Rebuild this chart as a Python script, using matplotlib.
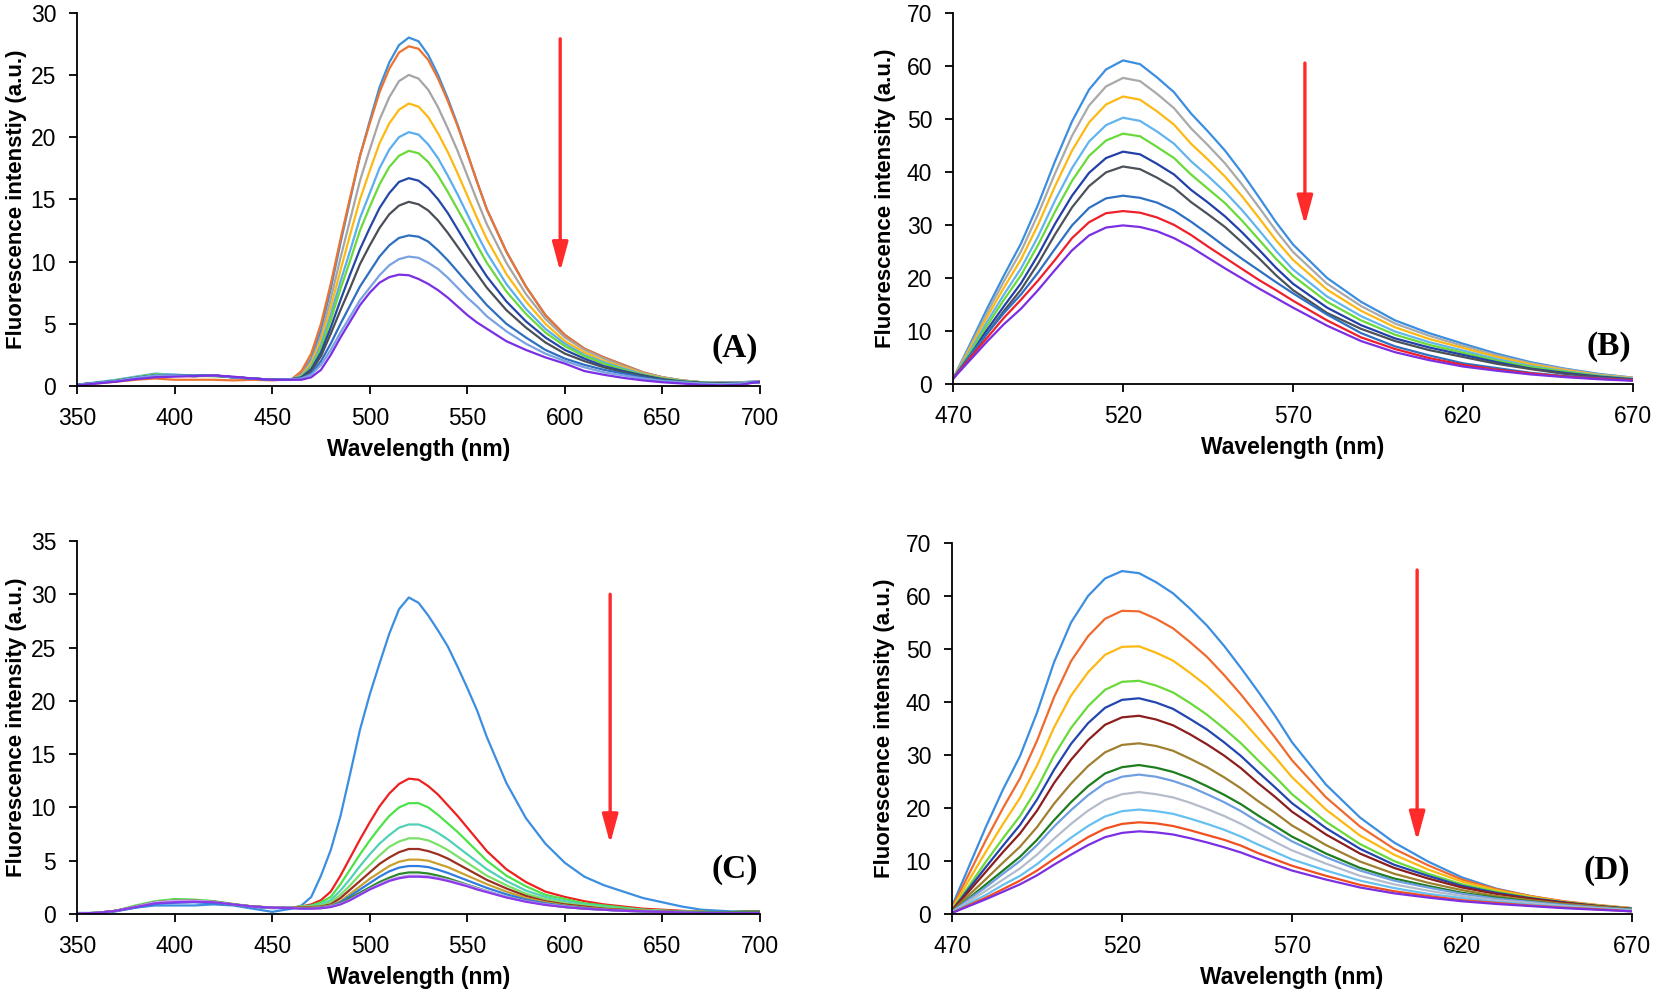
import matplotlib
matplotlib.use("Agg")
import matplotlib.pyplot as plt

plt.rcParams["font.family"] = ["Liberation Sans", "DejaVu Sans"]

# wavelength grids (nm)
wl_ac = [350, 360, 370, 380, 390, 400, 410, 420, 430, 440, 450, 460,
         465, 470, 475, 480, 485, 490, 495, 500, 505, 510, 515, 520, 525, 530,
         535, 540, 545, 550, 555, 560,
         570, 580, 590, 600, 610, 620, 630, 640, 650, 660, 670, 680, 690, 700]
wl_bd = [470, 475, 480, 485, 490, 495, 500, 505, 510, 515, 520, 525, 530, 535,
         540, 545, 550, 555, 560, 565, 570,
         580, 590, 600, 610, 620, 630, 640, 650, 660, 670]

# ---- panel A ----
A_1 = [0.1, 0.25, 0.45, 0.7, 0.95, 0.9, 0.85, 0.85, 0.7, 0.6, 0.5, 0.55,
       1.0, 2.2, 4.5, 7.8, 11.5, 15.0, 18.5, 21.3, 24.0, 26.0, 27.4, 28.0, 27.7, 26.6, 25.0, 23.1, 21.0, 18.7, 16.4, 14.2,
       10.8, 8.0, 5.7, 4.1, 3.0, 2.3, 1.7, 1.1, 0.7, 0.45, 0.3, 0.3, 0.3, 0.4]
A_2 = [0.1, 0.2, 0.35, 0.5, 0.6, 0.5, 0.5, 0.5, 0.45, 0.5, 0.45, 0.55,
       1.2, 2.6, 5.0, 8.2, 11.8, 15.2, 18.5, 21.1, 23.6, 25.5, 26.8, 27.3, 27.1, 26.2, 24.7, 22.9, 20.9, 18.7, 16.4, 14.2,
       10.8, 8.0, 5.7, 4.1, 3.0, 2.3, 1.7, 1.1, 0.7, 0.45, 0.3, 0.25, 0.25, 0.35]
A_3 = [0.1, 0.25, 0.4, 0.65, 0.85, 0.85, 0.8, 0.85, 0.7, 0.6, 0.5, 0.55,
       0.9, 2.0, 4.0, 7.0, 10.3, 13.4, 16.5, 19.0, 21.4, 23.2, 24.5, 25.0, 24.7, 23.8, 22.4, 20.7, 18.9, 16.9, 14.9, 13.0,
       9.9, 7.4, 5.4, 3.9, 2.9, 2.2, 1.6, 1.05, 0.7, 0.45, 0.3, 0.25, 0.25, 0.35]
A_4 = [0.1, 0.25, 0.4, 0.6, 0.8, 0.8, 0.8, 0.8, 0.7, 0.6, 0.5, 0.55,
       0.85, 1.8, 3.7, 6.3, 9.3, 12.2, 15.0, 17.3, 19.5, 21.1, 22.2, 22.7, 22.45, 21.6, 20.3, 18.8, 17.1, 15.3, 13.5, 11.8,
       9.0, 6.8, 5.0, 3.6, 2.7, 2.0, 1.5, 1.0, 0.65, 0.4, 0.3, 0.25, 0.25, 0.35]
A_5 = [0.1, 0.3, 0.5, 0.75, 1.0, 0.9, 0.85, 0.8, 0.7, 0.6, 0.5, 0.55,
       0.8, 1.6, 3.3, 5.7, 8.4, 10.9, 13.5, 15.5, 17.5, 19.0, 20.0, 20.4, 20.2, 19.4, 18.3, 16.9, 15.4, 13.8, 12.2, 10.7,
       8.2, 6.2, 4.6, 3.4, 2.5, 1.9, 1.4, 0.95, 0.6, 0.4, 0.3, 0.25, 0.25, 0.35]
A_6 = [0.1, 0.25, 0.45, 0.7, 0.95, 0.85, 0.8, 0.8, 0.7, 0.6, 0.5, 0.55,
       0.75, 1.5, 3.0, 5.3, 7.8, 10.1, 12.5, 14.4, 16.2, 17.6, 18.5, 18.9, 18.7, 18.0, 16.9, 15.6, 14.2, 12.8, 11.3, 9.9,
       7.6, 5.8, 4.3, 3.2, 2.4, 1.8, 1.3, 0.9, 0.6, 0.4, 0.3, 0.2, 0.2, 0.3]
A_7 = [0.1, 0.25, 0.4, 0.65, 0.85, 0.85, 0.8, 0.85, 0.7, 0.6, 0.5, 0.55,
       0.7, 1.35, 2.7, 4.7, 6.9, 9.0, 11.0, 12.7, 14.3, 15.5, 16.4, 16.7, 16.5, 15.9, 15.0, 13.9, 12.6, 11.3, 10.0, 8.8,
       6.8, 5.2, 3.9, 2.9, 2.2, 1.6, 1.2, 0.85, 0.55, 0.35, 0.25, 0.2, 0.2, 0.3]
A_8 = [0.1, 0.25, 0.4, 0.65, 0.85, 0.85, 0.8, 0.85, 0.7, 0.6, 0.5, 0.55,
       0.65, 1.2, 2.4, 4.2, 6.1, 7.9, 9.8, 11.3, 12.7, 13.8, 14.5, 14.8, 14.6, 14.1, 13.3, 12.3, 11.2, 10.1, 9.0, 7.9,
       6.1, 4.7, 3.5, 2.6, 2.0, 1.5, 1.1, 0.8, 0.5, 0.35, 0.25, 0.2, 0.2, 0.3]
A_9 = [0.1, 0.25, 0.4, 0.65, 0.85, 0.85, 0.8, 0.85, 0.7, 0.6, 0.5, 0.55,
       0.6, 1.0, 2.0, 3.4, 5.0, 6.5, 8.0, 9.2, 10.4, 11.3, 11.9, 12.1, 12.0, 11.6, 10.9, 10.1, 9.2, 8.3, 7.4, 6.5,
       5.0, 3.9, 2.9, 2.2, 1.7, 1.3, 1.0, 0.7, 0.45, 0.3, 0.2, 0.15, 0.2, 0.3]
A_10 = [0.1, 0.25, 0.4, 0.65, 0.85, 0.85, 0.8, 0.85, 0.7, 0.6, 0.5, 0.55,
        0.6, 0.9, 1.7, 2.9, 4.3, 5.6, 6.9, 7.9, 8.9, 9.7, 10.2, 10.4, 10.3, 9.9, 9.4, 8.7, 7.9, 7.1, 6.4, 5.6,
        4.4, 3.4, 2.6, 2.0, 1.5, 1.1, 0.85, 0.6, 0.4, 0.3, 0.2, 0.15, 0.2, 0.3]
A_11 = [0.05, 0.2, 0.35, 0.55, 0.7, 0.75, 0.8, 0.85, 0.75, 0.6, 0.5, 0.5,
        0.5, 0.7, 1.3, 2.5, 3.9, 5.2, 6.5, 7.5, 8.3, 8.75, 8.95, 8.9, 8.6, 8.2, 7.7, 7.1, 6.4, 5.7, 5.1, 4.6,
        3.6, 2.9, 2.3, 1.8, 1.2, 0.9, 0.65, 0.45, 0.3, 0.2, 0.1, 0.05, 0.1, 0.35]
A_colors = ["#3c8fdc", "#ee7330", "#a5a5a5", "#fdb913", "#5aaef0", "#6ad93a",
            "#2447a8", "#4a4f57", "#2e6fc0", "#7aa2e3", "#7b2fe3"]

# ---- panel B ----
B_1 = [1.0, 7.5, 14.2, 20.5, 26.5, 33.8, 42.0, 49.5, 55.5, 59.3, 61.0, 60.3, 57.8, 55.0, 51.0, 47.6, 44.0, 39.8, 35.2, 30.5, 26.3,
       20.0, 15.5, 12.0, 9.6, 7.6, 5.7, 4.1, 2.9, 1.9, 1.2]
B_2 = [1.0, 7.1, 13.4, 19.4, 25.0, 32.0, 39.7, 46.8, 52.5, 56.1, 57.7, 57.1, 54.7, 52.0, 48.2, 45.0, 41.6, 37.6, 33.3, 28.9, 24.9,
       18.9, 14.7, 11.4, 9.1, 7.2, 5.4, 3.9, 2.8, 1.8, 1.2]
B_3 = [1.0, 6.7, 12.6, 18.2, 23.5, 30.0, 37.3, 44.0, 49.3, 52.7, 54.2, 53.6, 51.4, 48.9, 45.3, 42.3, 39.1, 35.4, 31.3, 27.1, 23.4,
       17.8, 13.8, 10.7, 8.5, 6.8, 5.1, 3.7, 2.6, 1.7, 1.1]
B_4 = [1.0, 6.2, 11.7, 16.9, 21.8, 27.8, 34.6, 40.7, 45.7, 48.8, 50.2, 49.6, 47.6, 45.3, 42.0, 39.2, 36.2, 32.8, 29.0, 25.1, 21.6,
       16.5, 12.8, 9.9, 7.9, 6.3, 4.7, 3.4, 2.4, 1.6, 1.0]
B_5 = [1.0, 5.8, 11.0, 15.9, 20.5, 26.2, 32.5, 38.3, 43.0, 45.9, 47.2, 46.7, 44.7, 42.6, 39.5, 36.8, 34.1, 30.8, 27.2, 23.6, 20.4,
       15.5, 12.0, 9.3, 7.4, 5.9, 4.4, 3.2, 2.3, 1.5, 0.9]
B_6 = [1.0, 5.4, 10.2, 14.7, 19.0, 24.3, 30.2, 35.5, 39.8, 42.6, 43.8, 43.3, 41.5, 39.5, 36.6, 34.2, 31.6, 28.6, 25.3, 21.9, 18.9,
       14.4, 11.1, 8.6, 6.9, 5.5, 4.1, 2.9, 2.1, 1.4, 0.9]
B_7 = [1.0, 5.0, 9.5, 13.8, 17.8, 22.7, 28.2, 33.3, 37.3, 39.9, 41.0, 40.5, 38.9, 37.0, 34.3, 32.0, 29.6, 26.7, 23.7, 20.5, 17.7,
       13.4, 10.4, 8.1, 6.4, 5.1, 3.8, 2.8, 1.9, 1.3, 0.8]
B_8 = [1.0, 5.4, 9.5, 13.4, 16.9, 21.0, 25.5, 29.9, 33.2, 35.0, 35.5, 35.1, 34.2, 32.7, 30.6, 28.3, 25.9, 23.6, 21.4, 19.2, 17.1,
       13.1, 9.6, 7.1, 5.4, 3.9, 3.0, 2.1, 1.5, 1.1, 0.7]
B_9 = [1.0, 4.9, 8.7, 12.5, 15.9, 19.5, 23.4, 27.5, 30.5, 32.2, 32.6, 32.3, 31.4, 30.0, 28.1, 25.9, 23.8, 21.7, 19.6, 17.7, 15.7,
       12.0, 8.8, 6.6, 4.9, 3.6, 2.7, 2.0, 1.4, 1.0, 0.7]
B_10 = [1.0, 4.5, 8.0, 11.3, 14.2, 17.7, 21.5, 25.2, 28.0, 29.5, 29.9, 29.6, 28.8, 27.5, 25.8, 23.8, 21.8, 19.9, 18.0, 16.2, 14.4,
        11.0, 8.1, 6.0, 4.5, 3.3, 2.5, 1.8, 1.3, 0.9, 0.6]
B_colors = ["#3b8ee0", "#a9a9a9", "#fdb913", "#62b4ee", "#6ad93a",
            "#2340a8", "#4b5259", "#2e70c2", "#f0202a", "#7b2fe3"]

# ---- panel C ----
C_1 = [0.1, 0.1, 0.3, 0.6, 0.8, 0.8, 0.8, 0.9, 0.8, 0.5, 0.2, 0.5,
       0.8, 1.6, 3.6, 6.0, 9.2, 13.2, 17.3, 20.6, 23.5, 26.3, 28.6, 29.7, 29.2, 28.0, 26.6, 25.1, 23.2, 21.2, 19.1, 16.6,
       12.3, 9.0, 6.6, 4.8, 3.5, 2.7, 2.1, 1.5, 1.1, 0.7, 0.4, 0.3, 0.2, 0.2]
C_2 = [0.05, 0.1, 0.3, 0.7, 1.1, 1.2, 1.2, 1.1, 0.9, 0.7, 0.6, 0.6,
       0.7, 0.9, 1.3, 2.1, 3.6, 5.3, 7.0, 8.6, 10.1, 11.3, 12.2, 12.7, 12.6, 12.0, 11.2, 10.2, 9.2, 8.1, 7.0, 5.9,
       4.2, 3.0, 2.1, 1.6, 1.2, 0.9, 0.7, 0.5, 0.4, 0.3, 0.2, 0.1, 0.1, 0.1]
C_3 = [0.05, 0.1, 0.3, 0.8, 1.2, 1.4, 1.35, 1.2, 0.95, 0.7, 0.6, 0.6,
       0.7, 0.8, 1.1, 1.6, 2.8, 4.2, 5.6, 6.9, 8.1, 9.2, 10.0, 10.4, 10.4, 10.0, 9.3, 8.5, 7.7, 6.8, 5.9, 5.0,
       3.6, 2.6, 1.8, 1.4, 1.0, 0.8, 0.6, 0.4, 0.3, 0.25, 0.2, 0.15, 0.2, 0.25]
C_4 = [0.05, 0.1, 0.3, 0.7, 1.1, 1.25, 1.25, 1.15, 0.9, 0.7, 0.6, 0.6,
       0.7, 0.75, 0.9, 1.3, 2.2, 3.3, 4.5, 5.6, 6.6, 7.4, 8.1, 8.4, 8.4, 8.1, 7.6, 7.0, 6.3, 5.6, 4.9, 4.2,
       3.1, 2.2, 1.6, 1.2, 0.9, 0.7, 0.5, 0.4, 0.3, 0.25, 0.2, 0.15, 0.2, 0.25]
C_5 = [0.05, 0.1, 0.3, 0.75, 1.15, 1.3, 1.3, 1.2, 0.9, 0.7, 0.6, 0.6,
       0.7, 0.7, 0.8, 1.1, 1.8, 2.7, 3.7, 4.6, 5.5, 6.3, 6.8, 7.1, 7.1, 6.9, 6.5, 6.0, 5.4, 4.8, 4.2, 3.6,
       2.7, 1.9, 1.4, 1.0, 0.8, 0.6, 0.45, 0.35, 0.3, 0.25, 0.2, 0.15, 0.2, 0.25]
C_6 = [0.05, 0.1, 0.3, 0.7, 1.1, 1.25, 1.25, 1.15, 0.9, 0.7, 0.6, 0.6,
       0.65, 0.65, 0.7, 0.9, 1.5, 2.3, 3.1, 3.9, 4.7, 5.3, 5.8, 6.1, 6.1, 5.9, 5.6, 5.2, 4.7, 4.2, 3.7, 3.2,
       2.4, 1.7, 1.2, 0.9, 0.7, 0.5, 0.4, 0.3, 0.25, 0.2, 0.2, 0.15, 0.2, 0.25]
C_7 = [0.05, 0.1, 0.3, 0.7, 1.1, 1.25, 1.25, 1.15, 0.9, 0.7, 0.6, 0.6,
       0.6, 0.6, 0.65, 0.8, 1.2, 1.9, 2.6, 3.3, 3.9, 4.5, 4.9, 5.1, 5.1, 5.0, 4.7, 4.4, 4.0, 3.6, 3.2, 2.8,
       2.1, 1.5, 1.1, 0.8, 0.6, 0.45, 0.35, 0.3, 0.25, 0.2, 0.2, 0.15, 0.2, 0.25]
C_8 = [0.05, 0.1, 0.25, 0.6, 0.95, 1.05, 1.1, 1.0, 0.85, 0.65, 0.55, 0.55,
       0.55, 0.55, 0.6, 0.75, 1.1, 1.7, 2.3, 2.9, 3.5, 4.0, 4.35, 4.5, 4.5, 4.4, 4.15, 3.85, 3.5, 3.15, 2.8, 2.45,
       1.85, 1.35, 1.0, 0.75, 0.55, 0.4, 0.3, 0.25, 0.2, 0.2, 0.15, 0.15, 0.2, 0.2]
C_9 = [0.05, 0.1, 0.3, 0.7, 1.1, 1.25, 1.25, 1.15, 0.9, 0.7, 0.6, 0.6,
       0.55, 0.55, 0.55, 0.7, 1.0, 1.5, 2.0, 2.5, 3.0, 3.4, 3.75, 3.9, 3.9, 3.8, 3.6, 3.35, 3.05, 2.75, 2.45, 2.15,
       1.6, 1.2, 0.9, 0.65, 0.5, 0.4, 0.3, 0.25, 0.2, 0.2, 0.15, 0.15, 0.2, 0.2]
C_10 = [0.05, 0.1, 0.3, 0.7, 1.1, 1.25, 1.25, 1.15, 0.9, 0.7, 0.6, 0.6,
        0.5, 0.5, 0.55, 0.7, 0.95, 1.35, 1.85, 2.35, 2.8, 3.2, 3.45, 3.6, 3.6, 3.55, 3.4, 3.2, 2.95, 2.7, 2.4, 2.15,
        1.6, 1.2, 0.9, 0.7, 0.5, 0.4, 0.3, 0.25, 0.2, 0.15, 0.1, 0.1, 0.1, 0.1]
C_11 = [0.05, 0.1, 0.3, 0.65, 1.0, 1.1, 1.15, 1.1, 0.9, 0.7, 0.6, 0.55,
        0.5, 0.5, 0.55, 0.65, 0.9, 1.3, 1.8, 2.3, 2.7, 3.1, 3.35, 3.5, 3.5, 3.45, 3.3, 3.1, 2.85, 2.6, 2.3, 2.05,
        1.55, 1.15, 0.85, 0.65, 0.5, 0.4, 0.3, 0.25, 0.2, 0.15, 0.1, 0.1, 0.1, 0.1]
C_colors = ["#3b8ee0", "#ee2020", "#4ee24a", "#52d0b8", "#7ae06a", "#9a3020",
            "#c9a030", "#2f7de0", "#2a8a2a", "#c8a8f0", "#8a3ae8"]

# ---- panel D ----
D_1 = [1.5, 9.0, 16.5, 23.5, 29.8, 38.0, 47.5, 55.0, 60.0, 63.3, 64.7, 64.3, 62.6, 60.5, 57.6, 54.4, 50.6, 46.4, 42.0, 37.4, 32.4,
       24.4, 18.2, 13.5, 9.9, 6.9, 4.8, 3.4, 2.3, 1.6, 1.1]
D_2 = [1.2, 7.6, 14.0, 20.0, 25.6, 32.7, 40.9, 47.7, 52.4, 55.7, 57.2, 57.1, 55.7, 53.9, 51.3, 48.5, 45.1, 41.4, 37.4, 33.3, 29.0,
       22.0, 16.5, 12.3, 9.2, 6.5, 4.7, 3.4, 2.4, 1.7, 1.1]
D_3 = [1.0, 6.4, 11.8, 17.0, 21.9, 28.0, 35.2, 41.2, 45.6, 48.9, 50.4, 50.5, 49.3, 47.8, 45.5, 43.0, 40.0, 36.8, 33.2, 29.6, 25.8,
       19.7, 14.8, 11.2, 8.4, 6.1, 4.5, 3.3, 2.3, 1.6, 1.1]
D_4 = [0.8, 5.3, 9.9, 14.3, 18.5, 23.7, 29.9, 35.1, 39.2, 42.3, 43.8, 44.0, 43.1, 41.8, 39.8, 37.6, 35.0, 32.2, 29.0, 25.9, 22.6,
       17.4, 13.2, 10.0, 7.6, 5.6, 4.2, 3.1, 2.2, 1.6, 1.0]
D_5 = [0.7, 4.8, 8.9, 12.9, 16.8, 21.6, 27.2, 32.1, 36.0, 38.9, 40.4, 40.7, 39.9, 38.7, 36.8, 34.8, 32.4, 29.8, 26.8, 23.9, 20.9,
       16.2, 12.3, 9.3, 7.2, 5.3, 4.0, 3.0, 2.2, 1.5, 1.0]
D_6 = [0.7, 4.3, 8.0, 11.7, 15.2, 19.5, 24.7, 29.1, 32.8, 35.7, 37.1, 37.4, 36.7, 35.6, 33.9, 32.0, 29.9, 27.5, 24.7, 22.1, 19.3,
       15.0, 11.4, 8.7, 6.7, 5.0, 3.8, 2.9, 2.1, 1.5, 0.9]
D_7 = [0.5, 3.6, 6.6, 9.7, 12.7, 16.4, 20.8, 24.6, 27.9, 30.5, 31.9, 32.2, 31.7, 30.8, 29.3, 27.7, 25.8, 23.7, 21.3, 19.1, 16.7,
       13.0, 9.9, 7.6, 5.9, 4.5, 3.4, 2.6, 1.9, 1.4, 0.9]
D_8 = [0.4, 3.0, 5.6, 8.2, 10.8, 14.0, 17.7, 21.1, 24.1, 26.5, 27.7, 28.1, 27.6, 26.8, 25.6, 24.1, 22.5, 20.7, 18.6, 16.6, 14.6,
       11.4, 8.7, 6.7, 5.3, 4.0, 3.1, 2.4, 1.7, 1.2, 0.8]
D_9 = [0.4, 2.8, 5.1, 7.6, 10.0, 13.0, 16.5, 19.6, 22.4, 24.7, 25.9, 26.3, 25.9, 25.1, 24.0, 22.6, 21.1, 19.4, 17.4, 15.6, 13.7,
       10.7, 8.2, 6.3, 5.0, 3.8, 2.9, 2.3, 1.7, 1.2, 0.8]
D_10 = [0.3, 2.4, 4.4, 6.5, 8.6, 11.2, 14.2, 17.0, 19.5, 21.5, 22.6, 23.0, 22.6, 22.0, 21.0, 19.8, 18.5, 17.0, 15.3, 13.6, 12.0,
        9.5, 7.2, 5.6, 4.4, 3.4, 2.6, 2.1, 1.5, 1.1, 0.7]
D_11 = [0.3, 2.0, 3.6, 5.5, 7.2, 9.4, 12.0, 14.4, 16.6, 18.4, 19.4, 19.7, 19.4, 18.9, 18.0, 17.0, 15.9, 14.6, 13.1, 11.7, 10.3,
        8.2, 6.3, 4.9, 3.8, 3.0, 2.3, 1.8, 1.3, 1.0, 0.6]
D_12 = [0.2, 1.7, 3.1, 4.7, 6.3, 8.2, 10.4, 12.5, 14.5, 16.1, 17.0, 17.3, 17.1, 16.6, 15.8, 14.9, 14.0, 12.9, 11.5, 10.3, 9.1,
        7.2, 5.5, 4.3, 3.4, 2.6, 2.1, 1.6, 1.2, 0.9, 0.5]
D_13 = [0.2, 1.5, 2.8, 4.2, 5.6, 7.3, 9.3, 11.2, 13.0, 14.5, 15.3, 15.6, 15.4, 15.0, 14.3, 13.5, 12.6, 11.6, 10.4, 9.3, 8.2,
        6.5, 5.0, 3.9, 3.1, 2.4, 1.9, 1.5, 1.1, 0.8, 0.5]
D_colors = ["#3b8ee0", "#f06a30", "#fdb913", "#6ad93a", "#2345b0", "#8b1e1e", "#a08030",
            "#1e7d1e", "#6f9fe0", "#b4bccb", "#66c0f0", "#f05020", "#7b2fe3"]

# arrow (x, start y, tip y) for each panel
arrow_A = (597.6, 27.9, 9.2)
arrow_B = (573.5, 60.5, 30.0)
arrow_C = (623.2, 30.0, 6.6)
arrow_D = (606.8, 64.9, 13.8)

fig = plt.figure(figsize=(16.54, 9.91), dpi=100)

panels = [
    ([0.0466, 0.6105, 0.4129, 0.3767], wl_ac,
     [A_1, A_2, A_3, A_4, A_5, A_6, A_7, A_8, A_9, A_10, A_11], A_colors,
     (350, 700), range(350, 701, 50), (0, 30), range(0, 31, 5),
     "Fluorescence intenstiy (a.u.)", 3, "(A)", 0.10, arrow_A),
    ([0.5762, 0.6125, 0.4111, 0.3747], wl_bd,
     [B_1, B_2, B_3, B_4, B_5, B_6, B_7, B_8, B_9, B_10], B_colors,
     (470, 670), range(470, 671, 50), (0, 70), range(0, 71, 10),
     "Fluorescence intensity (a.u.)", 8, "(B)", 0.10, arrow_B),
    ([0.0466, 0.0777, 0.4129, 0.3764], wl_ac,
     [C_1, C_2, C_3, C_4, C_5, C_6, C_7, C_8, C_9, C_10, C_11], C_colors,
     (350, 700), range(350, 701, 50), (0, 35), range(0, 36, 5),
     "Fluorescence intensity (a.u.)", 3, "(C)", 0.118, arrow_C),
    ([0.5756, 0.0777, 0.4111, 0.3744], wl_bd,
     [D_1, D_2, D_3, D_4, D_5, D_6, D_7, D_8, D_9, D_10, D_11, D_12, D_13], D_colors,
     (470, 670), range(470, 671, 50), (0, 70), range(0, 71, 10),
     "Fluorescence intensity (a.u.)", 8, "(D)", 0.116, arrow_D),
]

for rect, wl, curves, colors, xlim, xt, ylim, yt, ylab, ypad, tag, tag_y, arr in panels:
    ax = fig.add_axes(rect)
    for ys, c in zip(curves, colors):
        ax.plot(wl, ys, color=c, lw=1.6)
    ax.set_xlim(*xlim)
    ax.set_ylim(*ylim)
    ax.set_xticks(list(xt))
    ax.set_yticks(list(yt))
    for s in ["top", "right"]:
        ax.spines[s].set_visible(False)
    for s in ["left", "bottom"]:
        ax.spines[s].set_linewidth(1.3)
    ax.tick_params(direction="out", length=6, width=1.3, labelsize=16.5, pad=9)
    ax.set_xlabel("Wavelength (nm)", fontsize=16.5, fontweight="bold", labelpad=6)
    ax.set_ylabel(ylab, fontsize=16, fontweight="bold", labelpad=ypad)
    ax.text(0.997, tag_y, tag, transform=ax.transAxes, ha="right", va="center",
            fontsize=24, fontweight="bold", family=["Liberation Serif", "DejaVu Serif"])
    ax.annotate("", xy=(arr[0], arr[2]), xytext=(arr[0], arr[1]),
                arrowprops=dict(arrowstyle="-|>,head_width=0.3,head_length=1.1",
                                color="#ff2a2a", lw=2.4, mutation_scale=16,
                                shrinkA=0, shrinkB=0))

fig.savefig("out.png", dpi=100)
